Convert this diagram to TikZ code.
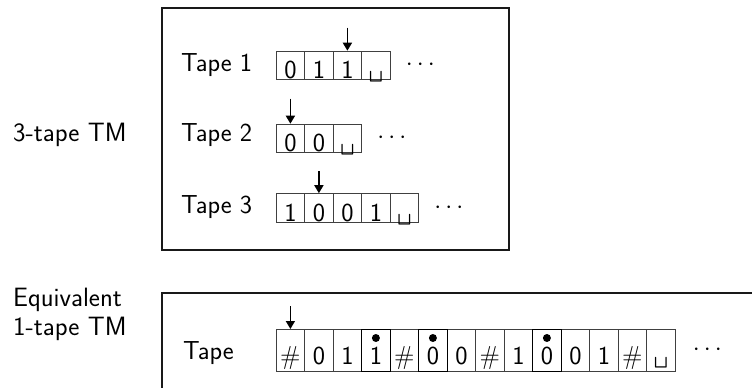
\documentclass[tikz,border=0pt]{standalone}
\usetikzlibrary{arrows.meta,calc}
\newcommand{\blanksym}{{\fontsize{30}{32}\selectfont\textvisiblespace}}
\begin{document}
\begin{tikzpicture}[x=1pt,y=-1pt,
  every node/.style={font=\sffamily\fontsize{26}{30}\selectfont},
  side/.style={font=\sffamily\fontsize{26.5}{28.3}\selectfont, anchor=base west, inner sep=0, align=left},
  lbl/.style={anchor=base west, inner sep=0},
  cell/.style={draw=black!75, line width=0.9pt, minimum width=28.5pt, minimum height=28.5pt,
    inner sep=0, text height=27.5pt, text depth=1pt, anchor=north west},
  bcell/.style={cell, minimum height=41.7pt, text height=35.5pt, text depth=6.2pt},
  headarrow/.style={-{Triangle[length=8pt,width=9pt]}, line width=1.6pt},
  frame/.style={line width=1.8pt, draw=black!90},
  dots/.style={anchor=west, inner sep=0},
  headdot/.style={fill=black}
]
\clip (0,0) rectangle (752,388);
\useasboundingbox (0,0) rectangle (752,388);

% frames
\draw[frame] (161.7,8.3) rectangle (509,250);
\draw[frame] (161.7,400) -- (161.7,292.7) -- (760,292.7);

% side labels
\node[side] (l3) at (13,141.7) {3-tape TM};
\node[side] (l1) at (13,335) {Equivalent\\1-tape TM};

% tape labels
\node[lbl] (tl1) at (181,71.7) {Tape 1};
\node[lbl] (tl2) at (181,141.7) {Tape 2};
\node[lbl] (tl3) at (181,213.3) {Tape 3};
\node[lbl] (tlb) at (183,359.5) {Tape};

% tape 1
\foreach \s [count=\i] in {0,1,1,\blanksym}
  \node[cell] (a\i) at (275.7+28.5*\i-28.5,50.7) {\s};
\node[dots] (ad) at ($(a4.east)+(15,0)$) {$\cdots$};
\coordinate (ah) at ($(a3.north)+(0,-23)$);
\draw[headarrow] (ah) -- (a3.north);

% tape 2
\foreach \s [count=\i] in {0,0,\blanksym}
  \node[cell] (b\i) at (275.7+28.5*\i-28.5,123.7) {\s};
\node[dots] (bd) at ($(b3.east)+(15,0)$) {$\cdots$};
\coordinate (bh) at ($(b1.north)+(0,-25)$);
\draw[headarrow] (bh) -- (b1.north);

% tape 3
\foreach \s [count=\i] in {1,0,0,1,\blanksym}
  \node[cell] (c\i) at (275.7+28.5*\i-28.5,193.2) {\s};
\node[dots] (cd) at ($(c5.east)+(15,0)$) {$\cdots$};
\coordinate (ch) at ($(c2.north)+(0,-22)$);
\draw[headarrow] (ch) -- (c2.north);

% single tape
\foreach \s [count=\i] in {\#,0,1,1,\#,0,0,\#,1,0,0,1,\#,\blanksym}
  \node[bcell] (d\i) at (275.7+28.5*\i-28.5,329) {\s};
\foreach \i in {4,6,10}{
  \draw[black, line width=0.9pt] (d\i.north west) rectangle (d\i.south east);
  \fill[headdot] ($(d\i.north)+(0,9)$) circle (4pt);
}
\node[dots] (dd) at ($(d14.east)+(17,0)$) {$\cdots$};
\coordinate (dh) at ($(d1.north)+(0,-23)$);
\draw[headarrow] (dh) -- (d1.north);
\end{tikzpicture}
\end{document}
